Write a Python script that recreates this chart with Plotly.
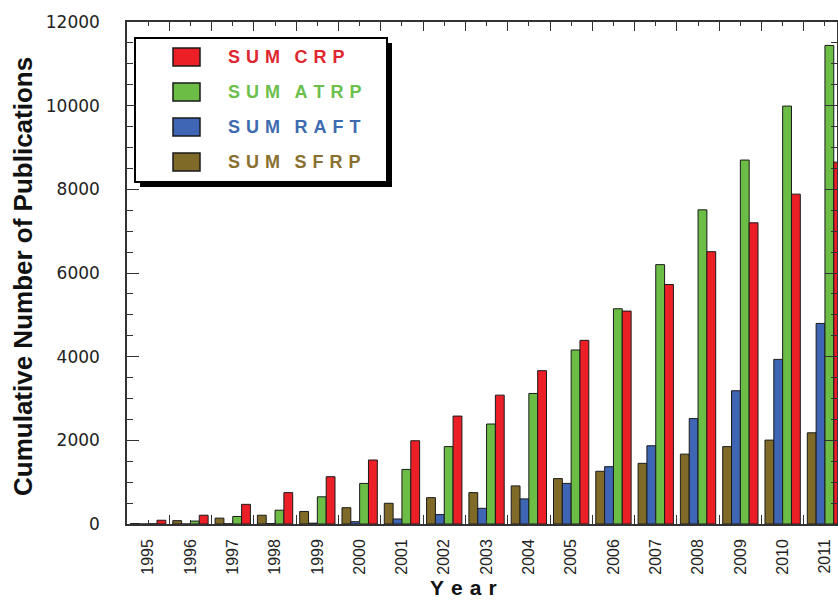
import plotly.graph_objects as go

years = list(range(1995, 2012))
sfrp = [10, 80, 140, 210, 300, 390, 495, 630, 750, 910, 1085, 1260, 1450, 1670, 1850, 2005, 2180]
raft = [0, 0, 5, 10, 20, 55, 120, 225, 375, 600, 970, 1370, 1870, 2520, 3185, 3935, 4795]
atrp = [5, 70, 180, 330, 650, 970, 1305, 1850, 2390, 3120, 4160, 5145, 6200, 7510, 8700, 9990, 11440]
crp = [90, 210, 470, 750, 1130, 1530, 1990, 2580, 3080, 3665, 4390, 5090, 5725, 6510, 7200, 7885, 8650]

series = [
    ("SUM SFRP", sfrp, "#7f6a28", "#8a7030"),
    ("SUM RAFT", raft, "#3f66b4", "#3e6bb0"),
    ("SUM ATRP", atrp, "#6cbd45", "#6cbf4b"),
    ("SUM CRP", crp, "#ec1f27", "#e0262e"),
]
legend_order = ["SUM CRP", "SUM ATRP", "SUM RAFT", "SUM SFRP"]
y_ticks = list(range(0, 12001, 2000))

fig = go.Figure()
for name, vals, col, _ in series:
    fig.add_trace(go.Bar(x=years, y=vals, name=name, marker=dict(color=col, line=dict(color="#1a1a1a", width=1)),
                         showlegend=False))

W, H = 838, 601
L, R, T, B = 127, 1, 22, 77
pw, ph = W - L - R, H - T - B

def px(x):
    return (x - L) / pw

def py(y):
    return (H - B - y) / ph

shapes = []
annotations = []
# legend shadow and box
shapes.append(dict(type="rect", xref="paper", yref="paper", x0=px(140), x1=px(392), y0=py(187), y1=py(43),
                   fillcolor="black", line=dict(width=0), layer="above"))
shapes.append(dict(type="rect", xref="paper", yref="paper", x0=px(135), x1=px(387), y0=py(182), y1=py(38),
                   fillcolor="white", line=dict(color="black", width=2), layer="above"))
col_map = {n: (c, tc) for n, _, c, tc in series}
sp = "\u2004"
for i, name in enumerate(legend_order):
    cy = 57 + 35 * i
    c, tc = col_map[name]
    shapes.append(dict(type="rect", xref="paper", yref="paper", x0=px(173), x1=px(200), y0=py(cy + 9), y1=py(cy - 9),
                       fillcolor=c, line=dict(color="#1a1a1a", width=1.5), layer="above"))
    spaced = (sp + " \u2009").join(sp.join(list(w)) for w in name.split(" "))
    annotations.append(dict(xref="paper", yref="paper", x=px(226), y=py(cy), text="<b>%s</b>" % spaced,
                            showarrow=False, xanchor="left", yanchor="middle",
                            font=dict(family="Liberation Sans, Arial", size=18, color=tc)))

annotations.append(dict(xref="paper", yref="paper", x=px(23), y=py(277), text="<b>Cumulative Number of Publications</b>",
                        textangle=-90, showarrow=False, xanchor="center", yanchor="middle",
                        font=dict(family="Liberation Sans, Arial", size=26, color="#111")))
annotations.append(dict(xref="paper", yref="paper", x=px(463), y=py(587), text="<b>" + sp.join("Year") + "</b>",
                        showarrow=False, xanchor="center", yanchor="middle",
                        font=dict(family="Liberation Sans, Arial", size=21, color="#111")))

fig.update_layout(
    width=W, height=H,
    margin=dict(l=L, r=R, t=T, b=B, pad=0),
    paper_bgcolor="white", plot_bgcolor="white",
    barmode="group", bargap=0.165, bargroupgap=0,
    shapes=shapes, annotations=annotations,
    showlegend=False,
)
fig.update_xaxes(
    range=[1994.5, 1994.5 + pw / 42.3],
    tickmode="array", tickvals=years, ticktext=[str(y) for y in years],
    tickangle=-90, ticks="inside", ticklen=4, tickwidth=1.2, tickcolor="#333",
    minor=dict(tickmode="array", tickvals=[y + 0.5 for y in [1994] + years], ticks="inside", ticklen=9,
               tickwidth=1.2, tickcolor="#333"),
    showline=True, linecolor="#333", linewidth=1.5, mirror="ticks",
    showgrid=False, zeroline=False, automargin=False,
    tickfont=dict(family="Liberation Sans, Arial", size=16, color="#222"),
    ticklabelstandoff=7,
)
fig.update_yaxes(
    range=[0, 12000],
    tickmode="array", tickvals=y_ticks, ticktext=[str(v) for v in y_ticks],
    ticks="inside", ticklen=12, tickwidth=1.2, tickcolor="#333",
    minor=dict(dtick=500, ticks="inside", ticklen=6, tickwidth=1.2, tickcolor="#333"),
    showline=True, linecolor="#333", linewidth=1.5, mirror="ticks",
    showgrid=False, zeroline=False, automargin=False,
    tickfont=dict(family="DejaVu Sans", size=17, color="#222"),
    ticklabelstandoff=22,
)

fig.write_html("out.html", config={"displayModeBar": False},
               post_script="document.body.style.margin='0';document.body.style.overflow='hidden';")
